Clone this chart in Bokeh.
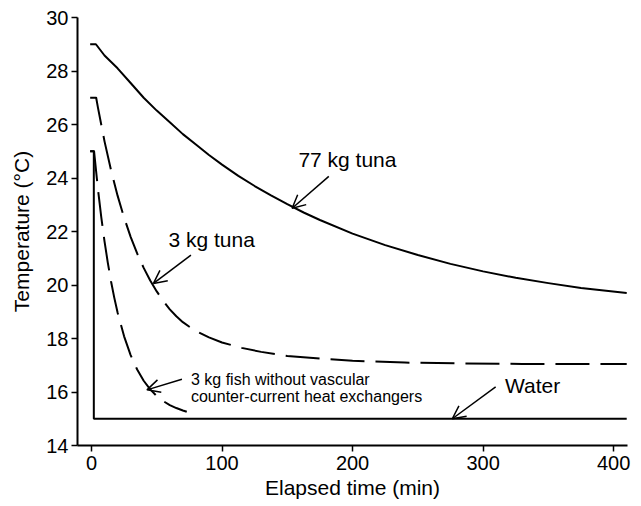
from bokeh.plotting import figure
from bokeh.models import Range1d, Arrow, OpenHead, Label, FixedTicker
from bokeh.embed import file_html
from bokeh.resources import INLINE

# Body temperature after transfer into 15 °C water
tuna77_t = [-1, 3.4, 10, 20, 30, 40, 50, 60, 70, 80, 90, 100, 112.5, 125, 137.5, 150, 162.5, 175,
            200, 225, 250, 275, 300, 325, 350, 375, 410]
tuna77_T = [29.0, 29.0, 28.58, 28.1, 27.55, 27.0, 26.52, 26.08, 25.64, 25.25, 24.86, 24.5, 24.08,
            23.7, 23.35, 23.02, 22.71, 22.43, 21.92, 21.49, 21.12, 20.79, 20.51, 20.27, 20.07,
            19.89, 19.7]

tuna3_t = [-1, 3.6, 5, 10, 15, 20, 25, 30, 35, 40, 45, 50, 55, 60, 65, 70, 75, 80, 90, 100, 115,
           130, 150, 175, 200, 240, 280, 330, 410]
tuna3_T = [27.0, 27.0, 26.62, 25.37, 24.29, 23.34, 22.52, 21.8, 21.18, 20.64, 20.17, 19.76, 19.4,
           19.09, 18.83, 18.61, 18.44, 18.28, 18.04, 17.85, 17.65, 17.5, 17.35, 17.25, 17.17,
           17.1, 17.07, 17.05, 17.05]

fish3_t = [-1, 2, 2.5, 5, 7.5, 10, 12.5, 15, 17.5, 20, 25, 30, 35, 40, 45, 50, 55, 60, 65, 70, 73]
fish3_T = [25.0, 25.0, 24.75, 23.57, 22.54, 21.63, 20.84, 20.13, 19.52, 18.97, 18.08, 17.38,
           16.84, 16.42, 16.1, 15.85, 15.66, 15.51, 15.4, 15.31, 15.26]

water_t = [-1, 1.8, 1.8, 410]
water_T = [25.0, 25.0, 15.0, 15.0]

x_ticks = [0, 100, 200, 300, 400]
y_ticks = [14, 16, 18, 20, 22, 24, 26, 28, 30]

# Curve labels: text, anchor (left, middle) and arrow tail -> head
label_text = ["77 kg tuna", "3 kg tuna", "Water"]
label_x = [158.5, 59.0, 316.7]
label_y = [24.68, 21.71, 16.25]

fish_lines = ["3 kg fish without vascular", "counter-current heat exchangers"]
fish_x = 76.2
fish_y = [16.47, 15.82]

arrow_x0 = [181.8, 76.2, 69.3, 309.6]
arrow_y0 = [24.06, 21.12, 16.48, 16.19]
arrow_x1 = [153.7, 47.5, 42.5, 276.4]
arrow_y1 = [22.87, 20.06, 16.08, 15.0]

FONT = "Liberation Sans"

p = figure(width=641, height=506, output_backend="svg", toolbar_location=None,
           x_range=Range1d(-10.7, 410.6), y_range=Range1d(14, 30),
           min_border_left=77, min_border_right=14, min_border_top=17, min_border_bottom=61)
p.outline_line_color = None
p.grid.visible = False
p.background_fill_color = "white"
p.border_fill_color = "white"

p.line(tuna77_t, tuna77_T, line_color="black", line_width=2, line_join="round")
p.line(tuna3_t, tuna3_T, line_color="black", line_width=2, line_dash="34 11", line_join="round")
p.line(fish3_t, fish3_T, line_color="black", line_width=2, line_dash="34 11", line_join="round")
p.line(water_t, water_T, line_color="black", line_width=2)

for txt, lx, ly in zip(label_text, label_x, label_y):
    p.add_layout(Label(x=lx, y=ly, text=txt, text_font=FONT, text_font_size="21px",
                       text_baseline="middle", text_align="left", text_color="black"))
for txt, ly in zip(fish_lines, fish_y):
    p.add_layout(Label(x=fish_x, y=ly, text=txt, text_font=FONT, text_font_size="16px",
                       text_baseline="middle", text_align="left", text_color="black"))

for xs, ys, xe, ye in zip(arrow_x0, arrow_y0, arrow_x1, arrow_y1):
    p.add_layout(Arrow(x_start=xs, y_start=ys, x_end=xe, y_end=ye, line_width=1.5,
                       line_color="black",
                       end=OpenHead(size=13, line_width=1.5, line_color="black")))

for ax in (p.xaxis[0], p.yaxis[0]):
    ax.axis_line_width = 2
    ax.axis_line_color = "black"
    ax.major_tick_line_width = 1.5
    ax.major_tick_line_color = "black"
    ax.major_tick_out = 6
    ax.major_tick_in = 0
    ax.minor_tick_out = 0
    ax.minor_tick_in = 0
    ax.major_label_text_font = FONT
    ax.major_label_text_font_size = "20px"
    ax.major_label_text_color = "black"
    ax.axis_label_text_font = FONT
    ax.axis_label_text_font_size = "21px"
    ax.axis_label_text_font_style = "normal"
    ax.axis_label_text_color = "black"

p.xaxis[0].ticker = FixedTicker(ticks=x_ticks)
p.yaxis[0].ticker = FixedTicker(ticks=y_ticks)
p.xaxis[0].axis_label = "Elapsed time (min)"
p.yaxis[0].axis_label = "Temperature (°C)"
p.xaxis[0].major_label_standoff = 4
p.xaxis[0].axis_label_standoff = 3
p.yaxis[0].major_label_standoff = 3
p.yaxis[0].axis_label_standoff = 10

open("out.html", "w").write(file_html(p, INLINE))
